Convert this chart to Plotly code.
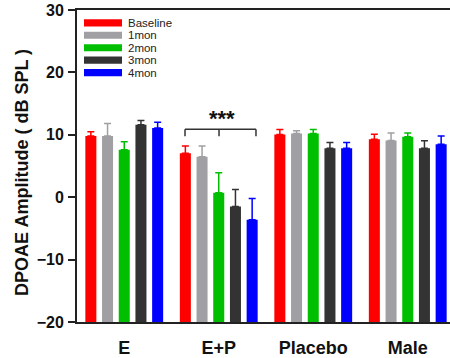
import plotly.graph_objects as go

categories = ["E", "E+P", "Placebo", "Male"]
series_names = ["Baseline", "1mon", "2mon", "3mon", "4mon"]
colors = ["#FF0000", "#A0A0A4", "#00BF00", "#333333", "#0000FF"]

baseline = [9.8, 7.05, 10.05, 9.3]
mon1 = [9.8, 6.5, 10.2, 9.1]
mon2 = [7.6, 0.7, 10.2, 9.7]
mon3 = [11.6, -1.5, 7.85, 7.85]
mon4 = [11.1, -3.6, 7.85, 8.5]

err_baseline = [0.7, 1.15, 0.8, 0.8]
err_mon1 = [2.0, 1.7, 0.45, 1.2]
err_mon2 = [1.3, 3.2, 0.65, 0.6]
err_mon3 = [0.7, 2.75, 0.9, 1.2]
err_mon4 = [0.9, 3.4, 0.9, 1.3]

values = [baseline, mon1, mon2, mon3, mon4]
errors = [err_baseline, err_mon1, err_mon2, err_mon3, err_mon4]

y_ticks = [-20, -10, 0, 10, 20, 30]
y_floor = -20  # bars rise from the bottom of the axis

W, H = 450, 358
L, R, T, B = 77, 450, 10, 326  # plot area in pixels


def px_x(p):
    return (p - L) / (R - L)


def px_y(p):
    return (B - p) / (B - T)


fig = go.Figure()
xpos = list(range(len(categories)))
for name, col, v, e in zip(series_names, colors, values, errors):
    fig.add_trace(go.Bar(
        x=xpos, y=[val - y_floor for val in v], base=y_floor, name=name,
        customdata=v, hovertemplate="%{customdata}<extra>" + name + "</extra>",
        marker=dict(color=col, line=dict(width=0)),
        error_y=dict(type="data", array=e, arrayminus=[0] * len(e), symmetric=False,
                     color=col, thickness=1.5, width=3.5),
        showlegend=False,
    ))

shapes = []
annotations = []
# legend drawn as swatches + labels
for i, (name, col) in enumerate(zip(series_names, colors)):
    cy = 23 + i * 12.6
    shapes.append(dict(type="rect", xref="paper", yref="paper",
                       x0=px_x(84), x1=px_x(122), y0=px_y(cy + 3.6), y1=px_y(cy - 3.6),
                       fillcolor=col, line=dict(width=0)))
    annotations.append(dict(text=name, xref="paper", yref="paper", x=px_x(126), y=px_y(cy),
                            xanchor="left", yanchor="middle", showarrow=False,
                            font=dict(family="Liberation Sans, Arial", size=11.5, color="#222")))

# significance bracket
bx0, bx1, bmid, btop, bend = 0.643, 1.394, 1.003, 10.9, 9.75
line_style = dict(color="#333", width=1.5)
shapes += [
    dict(type="line", x0=bx0, x1=bx1, y0=btop, y1=btop, line=line_style),
    dict(type="line", x0=bx0, x1=bx0, y0=btop, y1=bend, line=line_style),
    dict(type="line", x0=bx1, x1=bx1, y0=btop, y1=bend, line=line_style),
    dict(type="line", x0=bmid, x1=bmid, y0=btop, y1=bend, line=line_style),
]
annotations.append(dict(text="***", x=1.03, y=12.6, xref="x", yref="y", showarrow=False,
                        yanchor="middle",
                        font=dict(family="Liberation Sans, Arial", size=22, color="#111", weight="bold")))

# y title
annotations.append(dict(text="DPOAE Amplitude ( dB SPL )", xref="paper", yref="paper",
                        x=px_x(22), y=px_y(175), textangle=-90, showarrow=False,
                        xanchor="center", yanchor="middle",
                        font=dict(family="Liberation Sans, Arial", size=18, color="#111", weight="bold")))

fig.update_layout(
    width=W, height=H,
    margin=dict(l=L, r=W - R, t=T, b=H - B, pad=0),
    plot_bgcolor="white", paper_bgcolor="white",
    barmode="group", bargap=0.1164, bargroupgap=0.34,
    shapes=shapes, annotations=annotations,
    xaxis=dict(range=[-0.5, -0.5 + (R - L) / 94.5], tickvals=xpos, ticktext=categories,
               showline=True, linecolor="#222", linewidth=2, mirror=True,
               ticks="", showgrid=False, zeroline=False, ticklabelstandoff=8,
               tickfont=dict(family="Liberation Sans, Arial", size=18, color="#111", weight="bold")),
    yaxis=dict(range=[-20, 30], tickvals=y_ticks, showline=True, linecolor="#222", linewidth=2,
               ticks="outside", ticklen=7, tickwidth=2, tickcolor="#222",
               showgrid=False, zeroline=False, ticklabelstandoff=1,
               tickfont=dict(family="Liberation Sans, Arial", size=16, color="#111", weight="bold")),
)

fig.write_html("out.html", config={"displayModeBar": False},
               post_script="document.body.style.margin='0';")
